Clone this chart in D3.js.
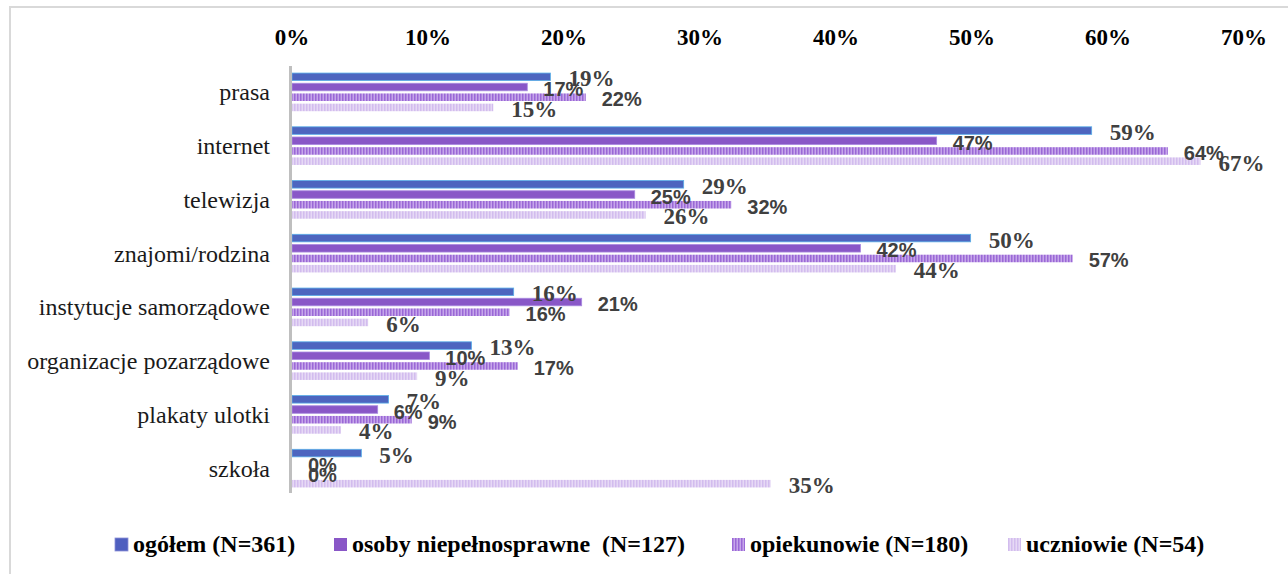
<!DOCTYPE html>
<html><head><meta charset="utf-8">
<script src="https://cdn.jsdelivr.net/npm/d3@7"></script>
<style>
html,body{margin:0;padding:0;background:#fff;}
svg{display:block;}
</style></head>
<body>
<svg id="chart" width="1288" height="574"></svg>
<script>
const categories = ["prasa","internet","telewizja","znajomi/rodzina","instytucje samorządowe","organizacje pozarządowe","plakaty ulotki","szkoła"];
const seriesNames = ["ogółem (N=361)","osoby niepełnosprawne  (N=127)","opiekunowie (N=180)","uczniowie (N=54)"];
const ogolem = [19.0, 58.8, 28.8, 49.9, 16.3, 13.2, 7.1, 5.1];
const osoby = [17.3, 47.4, 25.2, 41.8, 21.3, 10.1, 6.3, 0];
const opiekunowie = [21.6, 64.4, 32.3, 57.4, 16.0, 16.6, 8.8, 0];
const uczniowie = [14.8, 66.8, 26.0, 44.4, 5.6, 9.2, 3.6, 35.2];
const tickValues = [0,10,20,30,40,50,60,70];

const seriesValues = [ogolem, osoby, opiekunowie, uczniowie];
const svg = d3.select("#chart");

const defs = svg.append("defs");
function stripe(id, light, dark){
  const p = defs.append("pattern").attr("id", id).attr("patternUnits","userSpaceOnUse")
    .attr("width",3).attr("height",4);
  p.append("rect").attr("width",3).attr("height",4).attr("fill",light);
  p.append("rect").attr("width",1.5).attr("height",4).attr("fill",dark);
}
stripe("pOpiek", "#c6a6ea", "#9a68d6");
stripe("pUcz", "#e6d9f5", "#d2bcee");

const fills = ["#4d65bf", "#8957c7", "url(#pOpiek)", "url(#pUcz)"];
const strokes = ["#5aaee8", "#a98ae0", "none", "none"];
const legendFills = ["#4f5fbf", "#8957c7", "url(#pOpiek)", "url(#pUcz)"];

// outer frame
svg.append("rect").attr("x",10).attr("y",7).attr("width",1400).attr("height",700)
  .attr("fill","none").attr("stroke","#d9d9d9").attr("stroke-width",2);

const x = d3.scaleLinear().domain([0,70]).range([292,1244]);
const y = d3.scaleBand().domain(categories).range([65.4, 65.4 + 53.75*8]).padding(0);
const yi = d3.scaleBand().domain(d3.range(4)).range([5, 48.45]).padding(0.26);

const serif = "'Liberation Serif', 'Times New Roman', serif";
const sans = "'Liberation Sans', Arial, sans-serif";

// top tick labels
svg.append("g").selectAll("text").data(tickValues).join("text")
  .attr("x", d => x(d)).attr("y", 45).attr("text-anchor","middle")
  .attr("font-family", serif)
  .attr("font-weight","bold").attr("font-size",23).attr("fill","#000")
  .text(d => d + "%");

// category labels
svg.append("g").selectAll("text").data(categories).join("text")
  .attr("x", 270).attr("y", d => y(d) + y.bandwidth()/2 + 8).attr("text-anchor","end")
  .attr("font-family", serif)
  .attr("font-size",24).attr("fill","#1a1a1a")
  .text(d => d);

// bars
const flat = [];
categories.forEach((c, ci) => seriesValues.forEach((arr, si) => flat.push({c, si, v: arr[ci]})));

svg.append("g").selectAll("rect").data(flat.filter(d => d.v > 0)).join("rect")
  .attr("x", x(0)).attr("y", d => y(d.c) + yi(d.si))
  .attr("width", d => x(d.v) - x(0)).attr("height", yi.bandwidth())
  .attr("fill", d => fills[d.si])
  .attr("stroke", d => strokes[d.si]).attr("stroke-width", 0.8);

// axis line
svg.append("line").attr("x1", 290.5).attr("x2", 290.5).attr("y1", 66).attr("y2", 493)
  .attr("stroke","#bfbfbf").attr("stroke-width",3);

// value labels
const isSerif = d => d.si === 0 || d.si === 3;
svg.append("g").selectAll("text").data(flat).join("text")
  .attr("x", d => x(d.v) + (isSerif(d) ? 18 : 16))
  .attr("y", d => y(d.c) + yi(d.si) + yi.bandwidth()/2 + 2)
  .attr("dominant-baseline","central")
  .attr("font-family", d => isSerif(d) ? serif : sans)
  .attr("font-size", d => isSerif(d) ? 23 : 20)
  .attr("font-weight","bold").attr("fill","#404040")
  .text(d => Math.round(d.v) + "%");

// legend
const legendX = [115, 334, 732, 1008];
const lg = svg.append("g").selectAll("g").data(seriesNames).join("g")
  .attr("transform", (d,i) => `translate(${legendX[i]},538)`);
lg.append("rect").attr("width",13).attr("height",13)
  .attr("fill", (d,i) => legendFills[i])
  .attr("stroke", (d,i) => i === 0 ? "#8c90d8" : "none").attr("stroke-width",0.8);
lg.append("text").attr("x",18).attr("y",14)
  .attr("font-family", serif)
  .attr("font-weight","bold").attr("font-size",24).attr("fill","#000")
  .style("white-space","pre")
  .text(d => d);
</script>
</body></html>
